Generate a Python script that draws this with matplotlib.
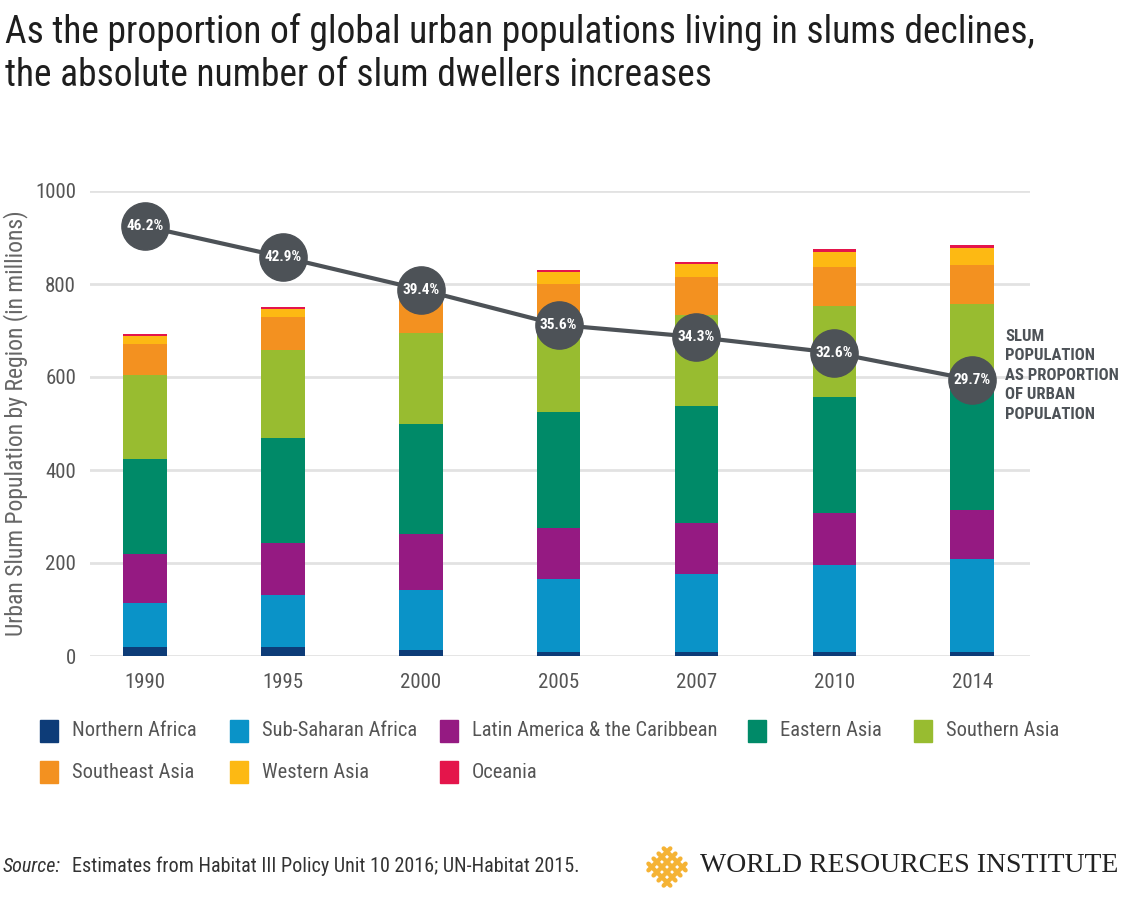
import matplotlib
matplotlib.use("Agg")
import matplotlib.pyplot as plt
from matplotlib import font_manager as fm
import numpy as np

# 細めのフォントを探す (なければ DejaVu Sans)
available = set(f.name for f in fm.fontManager.ttflist)
narrow = "DejaVu Sans"
for cand in ["Roboto Condensed", "Barlow Condensed", "Archivo Narrow",
             "PT Sans Narrow", "Liberation Sans Narrow"]:
    if cand in available:
        narrow = cand
        break
plt.rcParams['font.family'] = [narrow, 'DejaVu Sans']

# データ (単位: 百万人)
years = ["1990", "1995", "2000", "2005", "2007", "2010", "2014"]
regions = ["Northern Africa", "Sub-Saharan Africa", "Latin America & the Caribbean",
           "Eastern Asia", "Southern Asia", "Southeast Asia", "Western Asia", "Oceania"]
northern_africa = [20, 20, 13, 9, 9, 9, 9]
sub_saharan_africa = [93, 111, 130, 156, 167, 187, 200]
latin_america = [106, 111, 119, 110, 111, 112, 105]
eastern_asia = [204, 226, 236, 250, 251, 250, 258]
southern_asia = [181, 190, 196, 194, 195, 195, 184]
southeast_asia = [68, 72, 76, 82, 81, 83, 85]
western_asia = [16, 16, 17, 25, 28, 33, 37]
oceania = [4, 5, 4, 5, 6, 6, 6]
slum_share = [46.2, 42.9, 39.4, 35.6, 34.3, 32.6, 29.7]

colors = ["#0d3c78", "#0a93c8", "#951a82", "#008a68",
          "#98bc30", "#f39120", "#fdb913", "#e4154b"]
series = [northern_africa, sub_saharan_africa, latin_america, eastern_asia,
          southern_asia, southeast_asia, western_asia, oceania]

fig = plt.figure(figsize=(11.23, 9), dpi=100)
ax = fig.add_axes([90 / 1123, 1 - 656 / 900, 940 / 1123, 465 / 900])

x = np.arange(len(years))
bottom = np.zeros(len(years))
for vals, col in zip(series, colors):
    ax.bar(x, vals, width=0.315, bottom=bottom, color=col, zorder=2)
    bottom += np.array(vals)

ax.set_ylim(0, 1000)
ax.set_xlim(-0.4, 6.42)
ax.set_yticks([0, 200, 400, 600, 800, 1000])
ax.set_xticks(x)
ax.set_xticklabels(years)
ax.tick_params(length=0, labelsize=15, colors="#555555")
ax.tick_params(axis="x", pad=12)
ax.tick_params(axis="y", pad=10)
ax.grid(axis="y", color="#e2e2e2", linewidth=2, zorder=0)
for s in ax.spines.values():
    s.set_visible(False)
ax.set_ylabel("Urban Slum Population by Region (in millions)", fontsize=17,
              color="#666666")
ax.yaxis.set_label_coords(-0.066, 0.5)

# スラム人口割合の折れ線
ax2 = ax.twinx()
ax2.set_ylim(0, 50)
ax2.axis("off")
ax2.plot(x, slum_share, color="#4d5257", linewidth=3, zorder=3)
ax2.plot(x, slum_share, "o", markersize=34, color="#4d5257", zorder=4)
for xi, v in zip(x, slum_share):
    ax2.text(xi, v, f"{v}%", ha="center", va="center", color="white",
             fontsize=11, fontweight="bold", zorder=5)

fig.text(1005 / 1123, 1 - 329 / 900,
         "SLUM\nPOPULATION\nAS PROPORTION\nOF URBAN\nPOPULATION",
         fontsize=12, fontweight="bold", color="#4d5257", va="top", ha="left",
         linespacing=1.37)

# タイトル
fig.text(5 / 1123, 1 - 43 / 900,
         "As the proportion of global urban populations living in slums declines,",
         fontsize=27, color="#1e1e1e", va="baseline", ha="left")
fig.text(5 / 1123, 1 - 86 / 900,
         "the absolute number of slum dwellers increases",
         fontsize=27, color="#1e1e1e", va="baseline", ha="left")

# 凡例
legend_pos = [(40, 731), (230, 731), (440, 731), (748, 731), (914, 731),
              (40, 772), (230, 772), (440, 772)]
for (px, py), name, col in zip(legend_pos, regions, colors):
    fig.patches.append(plt.Rectangle((px / 1123, 1 - (py + 11) / 900), 18 / 1123, 22 / 900,
                                     transform=fig.transFigure, color=col))
    fig.text((px + 32) / 1123, 1 - py / 900, name, fontsize=14.8, color="#555555",
             va="center", ha="left")

# 出典
fig.text(3 / 1123, 1 - 866 / 900, "Source:", fontsize=14.5, style="italic",
         color="#333333", va="center")
fig.text(72 / 1123, 1 - 866 / 900,
         "Estimates from Habitat III Policy Unit 10 2016; UN-Habitat 2015.",
         fontsize=14.5, color="#333333", va="center")

# ロゴ (菱形の格子)
lax = fig.add_axes([643 / 1123, 1 - 891 / 900, 48 / 1123, 48 / 900])
lax.set_xlim(-1.1, 1.1)
lax.set_ylim(-1.1, 1.1)
lax.axis("off")
for c in [-0.7, -0.23, 0.23, 0.7]:
    lax.plot([(c - 1) / 2, (c + 1) / 2], [(-1 - c) / 2, (1 - c) / 2],
             color="#f5b335", linewidth=3.2, solid_capstyle="round")
    lax.plot([(c - 1) / 2, (c + 1) / 2], [(c + 1) / 2, (c - 1) / 2],
             color="#f5b335", linewidth=3.2, solid_capstyle="round")
fig.text(700 / 1123, 1 - 866 / 900, "WORLD RESOURCES INSTITUTE",
         family="Liberation Serif", fontsize=20, color="#222222", va="center")

plt.savefig("out.png", dpi=100)
